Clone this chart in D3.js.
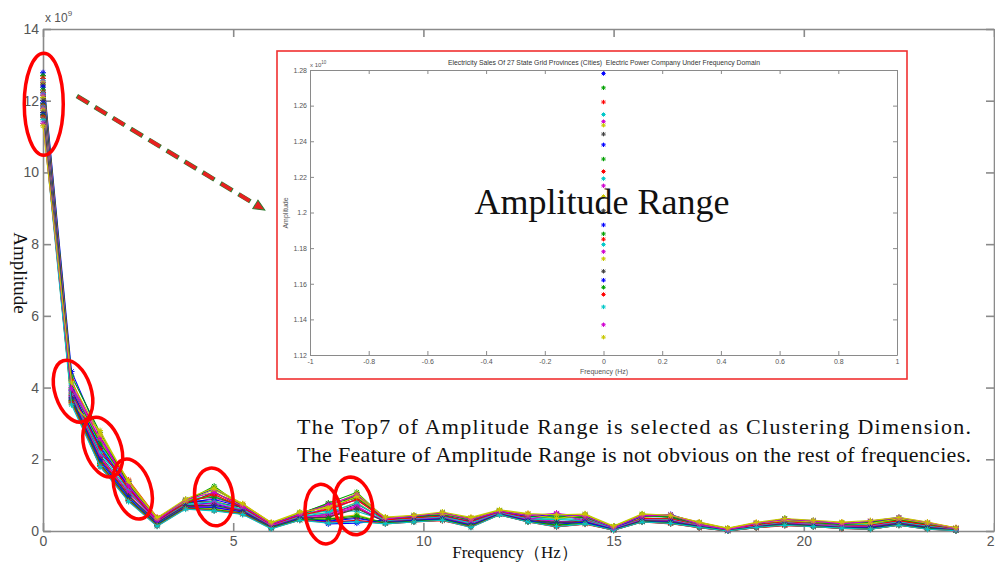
<!DOCTYPE html>
<html lang="en">
<head>
<meta charset="UTF-8" />
<title>Amplitude Range - Frequency Domain</title>
<script src="https://cdnjs.cloudflare.com/ajax/libs/d3/7.9.0/d3.min.js"></script>
<style>
  html, body { margin: 0; padding: 0; background: #fff; }
  svg { display: block; font-family: "Liberation Sans", Arial, sans-serif; }
  .axis path, .axis line { stroke: #8a8a8a; fill: none; }
  .main-axis path, .main-axis line { stroke-width: 1.6px; }
  .main-axis text { fill: #555; font-size: 14px; }
  .inset-axis path, .inset-axis line { stroke-width: 1px; }
  .inset-axis text { fill: #555; font-size: 7px; }
  .serif { font-family: "Liberation Serif", "Times New Roman", serif; fill: #111; }
  .series { fill: none; stroke-width: 1.1; }
  .ring { fill: none; stroke: #f00; stroke-width: 3.5px; }
</style>
</head>
<body>
<svg id="chart" width="995" height="562"></svg>
<script>
/* ---------------- data (amplitude in 1e9) ---------------- */
const freqs = [0, 0.75, 1.5, 2.25, 3, 3.75, 4.5, 5.25, 6, 6.75, 7.5, 8.25, 9, 9.75, 10.5,
  11.25, 12, 12.75, 13.5, 14.25, 15, 15.75, 16.5, 17.25, 18, 18.75, 19.5, 20.25, 21,
  21.75, 22.5, 23.25, 24];

// 27 provinces, one row each
const amplitudes = [
  [12.78,4.45,2.62,1.38,0.35,0.86,1.18,0.72,0.21,0.50,0.70,1.02,0.36,0.41,0.49,0.33,0.56,0.45,0.44,0.46,0.11,0.44,0.42,0.22,0.06,0.21,0.31,0.27,0.21,0.25,0.35,0.21,0.08],
  [12.70,4.32,2.75,1.30,0.31,0.82,1.25,0.68,0.18,0.47,0.78,1.08,0.33,0.38,0.52,0.28,0.58,0.41,0.36,0.42,0.09,0.47,0.38,0.19,0.04,0.18,0.34,0.24,0.18,0.22,0.32,0.18,0.06],
  [12.62,4.20,2.50,1.42,0.38,0.79,1.05,0.75,0.23,0.44,0.62,0.95,0.38,0.36,0.45,0.37,0.53,0.48,0.18,0.39,0.05,0.40,0.44,0.24,0.07,0.23,0.28,0.21,0.24,0.12,0.30,0.23,0.09],
  [12.55,4.10,2.40,1.25,0.28,0.88,0.98,0.63,0.15,0.52,0.55,0.90,0.30,0.43,0.40,0.25,0.51,0.38,0.40,0.44,0.12,0.36,0.35,0.16,0.03,0.15,0.25,0.28,0.15,0.20,0.28,0.15,0.05],
  [12.51,4.05,2.68,1.20,0.33,0.75,0.92,0.70,0.20,0.40,0.66,0.86,0.35,0.39,0.47,0.30,0.55,0.43,0.48,0.35,0.08,0.42,0.40,0.20,0.05,0.20,0.30,0.18,0.20,0.26,0.36,0.19,0.07],
  [12.49,3.60,2.55,1.10,0.26,0.70,0.85,0.60,0.12,0.48,0.50,0.80,0.28,0.34,0.43,0.22,0.50,0.36,0.30,0.48,0.06,0.38,0.30,0.14,0.02,0.17,0.22,0.20,0.12,0.18,0.25,0.12,0.04],
  [12.44,3.95,2.30,1.15,0.30,0.84,0.80,0.66,0.17,0.42,0.45,0.75,0.32,0.40,0.38,0.27,0.52,0.34,0.26,0.30,0.10,0.34,0.36,0.18,0.04,0.19,0.27,0.25,0.17,0.15,0.27,0.17,0.06],
  [12.38,3.88,2.20,1.28,0.22,0.80,0.75,0.58,0.14,0.38,0.25,0.28,0.25,0.30,0.36,0.20,0.49,0.30,0.22,0.25,0.04,0.30,0.27,0.12,0.01,0.13,0.20,0.16,0.10,0.09,0.22,0.10,0.03],
  [12.30,3.82,2.12,1.05,0.36,0.72,1.10,0.64,0.22,0.45,0.72,0.98,0.37,0.37,0.50,0.35,0.57,0.44,0.42,0.37,0.13,0.45,0.41,0.23,0.07,0.22,0.33,0.26,0.22,0.24,0.33,0.22,0.08],
  [12.23,3.78,2.05,1.00,0.20,0.68,0.70,0.55,0.10,0.35,0.40,0.65,0.27,0.29,0.34,0.15,0.47,0.28,0.14,0.28,0.03,0.28,0.25,0.11,0.00,0.11,0.18,0.14,0.09,0.07,0.20,0.08,0.02],
  [12.19,3.74,1.98,0.95,0.25,0.77,0.68,0.62,0.16,0.41,0.58,0.55,0.29,0.35,0.41,0.24,0.50,0.35,0.34,0.33,0.07,0.33,0.33,0.17,0.03,0.16,0.24,0.22,0.16,0.17,0.26,0.14,0.05],
  [12.15,3.70,1.90,0.90,0.18,0.74,0.65,0.52,0.11,0.36,0.48,0.70,0.24,0.31,0.37,0.18,0.46,0.32,0.28,0.23,0.05,0.29,0.28,0.13,0.02,0.12,0.19,0.17,0.11,0.11,0.21,0.09,0.03],
  [12.09,3.66,1.85,0.88,0.24,0.66,0.62,0.50,0.13,0.33,0.35,0.45,0.22,0.28,0.32,0.20,0.48,0.27,0.20,0.22,0.06,0.27,0.23,0.10,0.01,0.10,0.17,0.13,0.08,0.08,0.18,0.07,0.02],
  [12.01,3.62,1.80,0.85,0.15,0.64,0.58,0.47,0.08,0.31,0.30,0.38,0.21,0.26,0.30,0.12,0.45,0.26,0.12,0.20,0.02,0.26,0.21,0.09,0.00,0.09,0.16,0.12,0.07,0.05,0.16,0.06,0.01],
  [11.93,3.92,2.35,1.22,0.27,0.81,0.88,0.67,0.19,0.46,0.20,0.22,0.31,0.42,0.44,0.26,0.54,0.40,0.46,0.43,0.08,0.41,0.46,0.21,0.05,0.20,0.32,0.29,0.19,0.27,0.38,0.20,0.07],
  [11.88,4.00,2.45,1.32,0.32,0.85,0.95,0.70,0.20,0.49,0.76,0.92,0.34,0.39,0.46,0.31,0.56,0.42,0.38,0.40,0.10,0.43,0.39,0.20,0.05,0.19,0.35,0.23,0.18,0.23,0.31,0.18,0.06],
  [11.85,3.85,2.28,1.18,0.29,0.78,1.02,0.65,0.17,0.43,0.60,0.88,0.31,0.36,0.42,0.26,0.53,0.37,0.15,0.32,0.04,0.35,0.34,0.16,0.03,0.17,0.26,0.21,0.14,0.16,0.29,0.16,0.05],
  [11.82,3.80,2.18,1.12,0.21,0.73,0.82,0.60,0.14,0.39,0.52,0.78,0.28,0.33,0.39,0.22,0.51,0.33,0.32,0.29,0.07,0.32,0.30,0.15,0.02,0.14,0.23,0.19,0.13,0.14,0.24,0.13,0.04],
  [11.78,3.76,2.08,1.08,0.26,0.69,0.78,0.57,0.15,0.37,0.42,0.68,0.26,0.32,0.36,0.19,0.49,0.31,0.50,0.27,0.06,0.31,0.29,0.14,0.03,0.13,0.22,0.18,0.12,0.13,0.23,0.11,0.04],
  [11.74,3.55,2.80,1.35,0.34,0.83,1.15,0.74,0.22,0.51,0.68,1.05,0.35,0.44,0.48,0.34,0.58,0.46,0.35,0.45,0.12,0.46,0.43,0.22,0.06,0.22,0.29,0.26,0.23,0.21,0.34,0.22,0.08],
  [11.67,3.72,2.00,0.98,0.23,0.71,0.72,0.56,0.12,0.36,0.38,0.62,0.26,0.30,0.35,0.17,0.48,0.29,0.24,0.26,0.05,0.29,0.27,0.13,0.02,0.12,0.21,0.15,0.10,0.10,0.22,0.10,0.03],
  [11.62,3.68,1.95,0.92,0.19,0.67,0.66,0.53,0.10,0.34,0.28,0.35,0.23,0.29,0.33,0.16,0.47,0.28,0.19,0.24,0.04,0.27,0.24,0.12,0.01,0.11,0.18,0.14,0.09,0.08,0.19,0.08,0.02],
  [11.58,3.64,1.88,0.87,0.17,0.65,0.60,0.50,0.09,0.32,0.33,0.42,0.22,0.27,0.31,0.14,0.46,0.26,0.17,0.21,0.03,0.26,0.22,0.11,0.01,0.10,0.17,0.13,0.08,0.06,0.17,0.07,0.02],
  [11.54,3.58,1.83,0.84,0.14,0.63,0.57,0.48,0.07,0.30,0.24,0.30,0.20,0.25,0.29,0.11,0.45,0.25,0.11,0.19,0.02,0.25,0.20,0.09,0.00,0.09,0.15,0.12,0.07,0.05,0.16,0.05,0.01],
  [11.47,3.52,1.80,0.82,0.13,0.61,0.56,0.46,0.06,0.30,0.22,0.26,0.20,0.25,0.30,0.10,0.45,0.25,0.12,0.20,0.02,0.25,0.21,0.10,0.00,0.10,0.16,0.12,0.08,0.05,0.16,0.05,0.01],
  [11.37,3.98,2.58,1.26,0.30,0.87,1.08,0.69,0.19,0.47,0.74,1.00,0.34,0.41,0.51,0.32,0.55,0.43,0.49,0.41,0.09,0.43,0.45,0.19,0.04,0.21,0.33,0.28,0.20,0.28,0.37,0.24,0.07],
  [11.30,4.15,2.70,1.40,0.37,0.89,1.20,0.76,0.24,0.53,0.64,0.96,0.39,0.44,0.53,0.38,0.59,0.49,0.45,0.47,0.14,0.48,0.44,0.25,0.08,0.24,0.35,0.30,0.25,0.29,0.38,0.25,0.09]
];

// matlab colour order b g r c m y k
const lineColors = ["#0000ff", "#00a000", "#ff0000", "#00c8c8", "#d000d0", "#c8c800", "#404040"];

const xTicks = [0, 5, 10, 15, 20, 25];
const yTicks = [0, 2, 4, 6, 8, 10, 12, 14];
const insetXTicks = [-1, -0.8, -0.6, -0.4, -0.2, 0, 0.2, 0.4, 0.6, 0.8, 1];
const insetYTicks = [1.12, 1.14, 1.16, 1.18, 1.2, 1.22, 1.24, 1.26, 1.28];

// red rings: centre (Hz, 1e9), radii px, tilt deg
const rings = [
  { f: 0.02, v: 11.9, rx: 19.5, ry: 51, rot: 0 },
  { f: 0.79, v: 3.9, rx: 18, ry: 32, rot: -18 },
  { f: 1.57, v: 2.34, rx: 18, ry: 31, rot: -20 },
  { f: 2.36, v: 1.17, rx: 18, ry: 31, rot: -18 },
  { f: 4.49, v: 0.95, rx: 19, ry: 29, rot: -8 },
  { f: 7.37, v: 0.47, rx: 18, ry: 30, rot: -8 },
  { f: 8.16, v: 0.70, rx: 19, ry: 29, rot: -10 }
];

const insetTitle = "Electricity Sales Of 27 State Grid Provinces (Cities)  Electric Power Company Under Frequency Domain";
const noteLines = [
  "The Top7 of Amplitude Range is selected as Clustering Dimension.",
  "The Feature of Amplitude Range is not obvious on the rest of frequencies."
];

/* ---------------- helpers ---------------- */
const svg = d3.select("#chart");
svg.append("rect").attr("width", 995).attr("height", 562).attr("fill", "#fff");

// '*' marker path
const star = (s) => {
  const a = s * 0.72;
  return `M${-s},0H${s}M0,${-s}V${s}M${-a},${-a}L${a},${a}M${-a},${a}L${a},${-a}`;
};

/* ---------------- main plot ---------------- */
const M = { left: 43, right: 994, top: 29, bottom: 531 };
const x = d3.scaleLinear().domain([0, 25]).range([M.left, M.right]);
const y = d3.scaleLinear().domain([0, 14]).range([M.bottom, M.top]);

const styleAxis = (g) => g.attr("font-size", null).attr("font-family", null);

svg.append("g").attr("class", "axis main-axis")
  .attr("transform", `translate(0,${M.bottom})`)
  .call(d3.axisBottom(x).tickValues(xTicks).tickSize(-8).tickSizeOuter(0).tickPadding(5))
  .call(styleAxis);
svg.append("g").attr("class", "axis main-axis")
  .attr("transform", `translate(${M.left},0)`)
  .call(d3.axisLeft(y).tickValues(yTicks).tickSize(-8).tickSizeOuter(0).tickPadding(4))
  .call(styleAxis);
svg.append("g").attr("class", "axis main-axis")
  .attr("transform", `translate(0,${M.top})`)
  .call(d3.axisTop(x).tickValues(xTicks).tickSize(-8).tickSizeOuter(0).tickFormat(""));
svg.append("g").attr("class", "axis main-axis")
  .attr("transform", `translate(${M.right},0)`)
  .call(d3.axisRight(y).tickValues(yTicks).tickSize(-8).tickSizeOuter(0).tickFormat(""));

// x 10^9
svg.append("text").attr("x", 45).attr("y", 22).attr("fill", "#555")
  .attr("font-size", 12).text("x 10")
  .append("tspan").attr("dy", -6).attr("font-size", 8).text("9");

// series lines + markers
const line = d3.line().x((d, i) => x(freqs[i])).y((d) => y(d));
const seriesG = svg.append("g");
amplitudes.forEach((row, k) => {
  const col = lineColors[k % lineColors.length];
  const g = seriesG.append("g");
  g.append("path").attr("class", "series").attr("stroke", col).attr("d", line(row));
  g.selectAll("path.mk").data(row).join("path").attr("class", "mk")
    .attr("transform", (d, i) => `translate(${x(freqs[i])},${y(d)})`)
    .attr("d", star(3)).attr("stroke", col).attr("stroke-width", 1).attr("fill", "none");
});

// axis titles
svg.append("text").attr("class", "serif")
  .attr("transform", `translate(14,273) rotate(90)`)
  .attr("text-anchor", "middle").attr("font-size", 19).text("Amplitude");
svg.append("text").attr("class", "serif")
  .attr("x", 515).attr("y", 558).attr("text-anchor", "middle").attr("font-size", 17)
  .text("Frequency（Hz）");

/* ---------------- inset ---------------- */
const frame = { x0: 277, y0: 51, x1: 907, y1: 379 };
const IM = { left: 310, right: 897, top: 70, bottom: 355 };
const ix = d3.scaleLinear().domain([-1, 1]).range([IM.left, IM.right]);
const iy = d3.scaleLinear().domain([1.12, 1.28]).range([IM.bottom, IM.top]);

const inset = svg.append("g");
inset.append("rect")
  .attr("x", frame.x0).attr("y", frame.y0)
  .attr("width", frame.x1 - frame.x0).attr("height", frame.y1 - frame.y0)
  .attr("fill", "#fff").attr("stroke", "#f03030").attr("stroke-width", 1.6);

const fmt1 = (d) => String(+d.toFixed(1));
const fmt2 = (d) => String(+d.toFixed(2));
inset.append("g").attr("class", "axis inset-axis")
  .attr("transform", `translate(0,${IM.bottom})`)
  .call(d3.axisBottom(ix).tickValues(insetXTicks).tickSize(-4).tickSizeOuter(0).tickPadding(4).tickFormat(fmt1))
  .call(styleAxis);
inset.append("g").attr("class", "axis inset-axis")
  .attr("transform", `translate(${IM.left},0)`)
  .call(d3.axisLeft(iy).tickValues(insetYTicks).tickSize(-4).tickSizeOuter(0).tickPadding(3).tickFormat(fmt2))
  .call(styleAxis);
inset.append("g").attr("class", "axis inset-axis")
  .attr("transform", `translate(0,${IM.top})`)
  .call(d3.axisTop(ix).tickValues(insetXTicks).tickSize(-4).tickSizeOuter(0).tickFormat(""));
inset.append("g").attr("class", "axis inset-axis")
  .attr("transform", `translate(${IM.right},0)`)
  .call(d3.axisRight(iy).tickValues(insetYTicks).tickSize(-4).tickSizeOuter(0).tickFormat(""));

inset.append("text").attr("x", 604).attr("y", 65).attr("text-anchor", "middle")
  .attr("font-size", 6.8).attr("fill", "#333").attr("xml:space", "preserve").text(insetTitle);
inset.append("text").attr("x", 310).attr("y", 67).attr("font-size", 6).attr("fill", "#555")
  .text("x 10").append("tspan").attr("dy", -3).attr("font-size", 4.5).text("10");
inset.append("text").attr("x", 604).attr("y", 374).attr("text-anchor", "middle")
  .attr("font-size", 7).attr("fill", "#555").text("Frequency (Hz)");
inset.append("text").attr("transform", "translate(288,213) rotate(-90)")
  .attr("text-anchor", "middle").attr("font-size", 7).attr("fill", "#555").text("Amplitude");

// f = 0 amplitudes in units of 1e10
inset.selectAll("path.pt").data(amplitudes.map((r) => r[0] / 10)).join("path").attr("class", "pt")
  .attr("transform", (d) => `translate(${ix(freqs[0])},${iy(d)})`)
  .attr("d", star(2.2)).attr("fill", "none").attr("stroke-width", 1)
  .attr("stroke", (d, k) => lineColors[k % lineColors.length]);

inset.append("text").attr("class", "serif")
  .attr("x", 602).attr("y", 214).attr("text-anchor", "middle").attr("font-size", 36)
  .text("Amplitude Range");

/* ---------------- annotations ---------------- */
svg.append("g").selectAll("ellipse").data(rings).join("ellipse").attr("class", "ring")
  .attr("rx", (d) => d.rx).attr("ry", (d) => d.ry)
  .attr("transform", (d) => `translate(${x(d.f)},${y(d.v)}) rotate(${d.rot})`);

// dashed arrow from first ring to inset
const a0 = [x(0.89), y(12.13)], a1 = [x(5.83), y(8.95)];
const arrow = svg.append("g");
arrow.append("line").attr("x1", a0[0]).attr("y1", a0[1]).attr("x2", a1[0] - 6).attr("y2", a1[1] - 3.6)
  .attr("stroke", "#2e7d32").attr("stroke-width", 4.6).attr("stroke-dasharray", "14 7");
arrow.append("line").attr("x1", a0[0]).attr("y1", a0[1]).attr("x2", a1[0] - 6).attr("y2", a1[1] - 3.6)
  .attr("stroke", "#e82020").attr("stroke-width", 3.6).attr("stroke-dasharray", "12 9")
  .attr("stroke-dashoffset", -1);
const ang = Math.atan2(a1[1] - a0[1], a1[0] - a0[0]) * 180 / Math.PI;
arrow.append("path").attr("d", "M0,0L-11,-5L-11,5Z")
  .attr("transform", `translate(${a1[0]},${a1[1]}) rotate(${ang})`)
  .attr("fill", "#e82020").attr("stroke", "#2e7d32").attr("stroke-width", 1);

// note text, justified
svg.append("g").selectAll("text").data(noteLines).join("text").attr("class", "serif")
  .attr("x", 297).attr("y", (d, i) => 434 + i * 28)
  .attr("font-size", 22).attr("textLength", 674).attr("lengthAdjust", "spacing")
  .text((d) => d);
</script>
</body>
</html>
